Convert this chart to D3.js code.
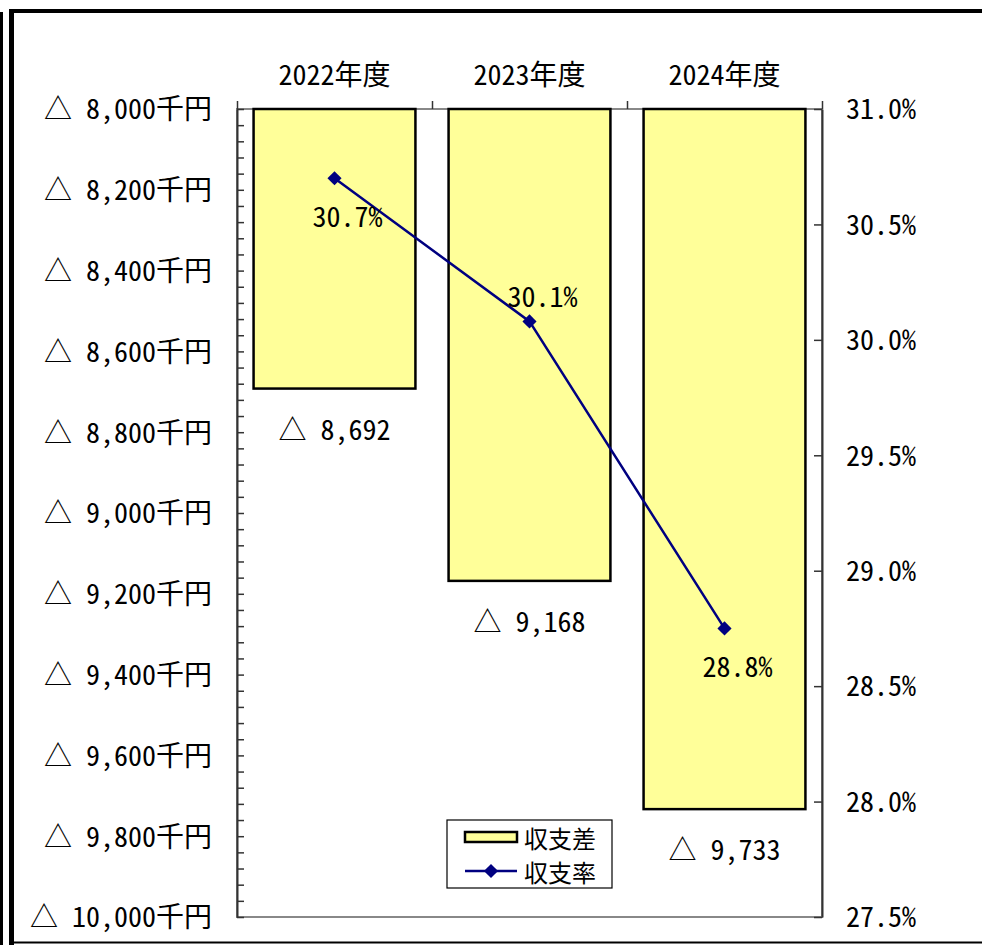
<!DOCTYPE html>
<html>
<head>
<meta charset="utf-8">
<script src="https://cdn.jsdelivr.net/npm/d3@7/dist/d3.min.js"></script>
<style>
  body { margin: 0; background: #fff; }
  svg text { font-family: "Noto Sans Mono CJK JP", "Noto Sans CJK JP", sans-serif; fill: #000; }
</style>
</head>
<body>
<div class="chart"></div>
<script>
// data
var years = ["2022年度", "2023年度", "2024年度"];
var balance = [-8692, -9168, -9733];      // 収支差 (千円)
var rate = [30.70, 30.08, 28.75];         // 収支率 (%)
var rateLabels = ["30.7%", "30.1%", "28.8%"];
var leftTicks = [8000, 8200, 8400, 8600, 8800, 9000, 9200, 9400, 9600, 9800, 10000];
var rightTicks = [31.0, 30.5, 30.0, 29.5, 29.0, 28.5, 28.0, 27.5];

var width = 982, height = 945;
var margin = {top: 109, right: 160, bottom: 28, left: 237};
var plotW = width - margin.left - margin.right;
var plotH = height - margin.top - margin.bottom;

var svg = d3.select(".chart")
  .append("svg")
  .attr("width", width)
  .attr("height", height);

// outer frame
svg.append("line").attr("x1", 10).attr("x2", width).attr("y1", 11).attr("y2", 11)
  .attr("stroke", "#000").attr("stroke-width", 4);
svg.append("line").attr("x1", 11.5).attr("x2", 11.5).attr("y1", 9).attr("y2", height)
  .attr("stroke", "#000").attr("stroke-width", 5);
svg.append("line").attr("x1", 1.5).attr("x2", 1.5).attr("y1", 12).attr("y2", height)
  .attr("stroke", "#000").attr("stroke-width", 3);
svg.append("line").attr("x1", 11).attr("x2", width).attr("y1", 942.5).attr("y2", 942.5)
  .attr("stroke", "#000").attr("stroke-width", 2);

var g = svg.append("g")
  .attr("transform", "translate(" + margin.left + "," + margin.top + ")");

// scales
var x = d3.scaleBand().domain(years).range([0, plotW]).paddingInner(0.17).paddingOuter(0.085);
var xEdge = d3.scaleLinear().domain([0, years.length]).range([0, plotW]);
var y = d3.scaleLinear().domain([8000, 10000]).range([0, plotH]);   // 8000 at top
var y2 = d3.scaleLinear().domain([31.0, 27.5]).range([0, plotH]);

// plot border
g.append("rect")
  .attr("x", 0).attr("y", 0).attr("width", plotW).attr("height", plotH)
  .attr("fill", "none").attr("stroke", "#888").attr("stroke-width", 2);

// bars
g.selectAll(".bar")
  .data(balance)
  .enter().append("rect")
  .attr("class", "bar")
  .attr("x", function (d, i) { return x(years[i]); })
  .attr("y", y(8000))
  .attr("width", x.bandwidth())
  .attr("height", function (d) { return y(-d) - y(8000); })
  .attr("fill", "#ffff99")
  .attr("stroke", "#000")
  .attr("stroke-width", 2.5);

// bar labels
g.selectAll(".barLabel")
  .data(balance)
  .enter().append("text")
  .attr("class", "barLabel")
  .attr("x", function (d, i) { return x(years[i]) + x.bandwidth() / 2; })
  .attr("y", function (d) { return y(-d) + 39; })
  .attr("text-anchor", "middle")
  .attr("dominant-baseline", "central")
  .style("font-size", "28px")
  .text(function (d) { return "△ " + d3.format(",")(-d); });

// left axis (ticks drawn inward)
var minorLeft = d3.range(8000, 10001, 40);
g.append("g")
  .attr("class", "y axis")
  .call(d3.axisLeft(y)
    .tickValues(minorLeft)
    .tickSize(-7)
    .tickSizeOuter(0)
    .tickPadding(25)
    .tickFormat(function (d) {
      return leftTicks.indexOf(d) >= 0 ? "△ " + d3.format(",")(d) + "千円" : "";
    }))
  .call(function (a) {
    a.select(".domain").attr("stroke", "#333").attr("stroke-width", 2);
    a.selectAll(".tick line").attr("stroke", "#333").attr("stroke-width", 1.5);
    a.selectAll("text").style("font-size", "28px").attr("dy", "0.35em");
  });

// right axis
g.append("g")
  .attr("class", "y2 axis")
  .attr("transform", "translate(" + plotW + ",0)")
  .call(d3.axisRight(y2)
    .tickValues(rightTicks)
    .tickSize(-8)
    .tickSizeOuter(0)
    .tickPadding(24)
    .tickFormat(function (d) { return d3.format(".1f")(d) + "%"; }))
  .call(function (a) {
    a.select(".domain").attr("stroke", "#333").attr("stroke-width", 2);
    a.selectAll(".tick line").attr("stroke", "#333").attr("stroke-width", 1.5);
    a.selectAll("text").style("font-size", "28px").attr("dy", "0.35em");
  });

// top category axis
g.append("g")
  .attr("class", "x axis")
  .call(d3.axisTop(xEdge).ticks(years.length).tickSize(8).tickSizeOuter(0).tickFormat(""))
  .call(function (a) {
    a.select(".domain").remove();
    a.selectAll(".tick line").attr("stroke", "#333").attr("stroke-width", 1.5);
  });
g.append("g")
  .call(d3.axisTop(x).tickSize(0).tickPadding(24))
  .call(function (a) {
    a.select(".domain").remove();
    a.selectAll("text").style("font-size", "28px");
  });

// rate line
var line = d3.line()
  .x(function (d, i) { return x(years[i]) + x.bandwidth() / 2; })
  .y(function (d) { return y2(d); });

g.append("path")
  .datum(rate)
  .attr("class", "line")
  .attr("fill", "none")
  .attr("stroke", "#000080")
  .attr("stroke-width", 2.5)
  .attr("d", line);

g.selectAll(".pt")
  .data(rate)
  .enter().append("path")
  .attr("class", "pt")
  .attr("d", d3.symbol().type(d3.symbolSquare).size(100))
  .attr("transform", function (d, i) {
    return "translate(" + (x(years[i]) + x.bandwidth() / 2) + "," + y2(d) + ") rotate(45)";
  })
  .attr("fill", "#000080");

// rate labels (below, above, below)
var rateLabelDy = [37, -26, 37];
g.selectAll(".rateLabel")
  .data(rate)
  .enter().append("text")
  .attr("class", "rateLabel")
  .attr("x", function (d, i) { return x(years[i]) + x.bandwidth() / 2 + 13; })
  .attr("y", function (d, i) { return y2(d) + rateLabelDy[i]; })
  .attr("text-anchor", "middle")
  .attr("dominant-baseline", "central")
  .style("font-size", "28px")
  .text(function (d, i) { return rateLabels[i]; });

// legend
var legend = svg.append("g").attr("transform", "translate(447,820)");
legend.append("rect")
  .attr("width", 165).attr("height", 68)
  .attr("fill", "#fff").attr("stroke", "#000").attr("stroke-width", 1.2);
legend.append("rect")
  .attr("x", 18).attr("y", 12).attr("width", 52).attr("height", 10)
  .attr("fill", "#ffff99").attr("stroke", "#000").attr("stroke-width", 2.5);
legend.append("text")
  .attr("x", 77).attr("y", 17).attr("dominant-baseline", "central")
  .style("font-size", "24px").text("収支差");
legend.append("line")
  .attr("x1", 18).attr("x2", 70).attr("y1", 51).attr("y2", 51)
  .attr("stroke", "#000080").attr("stroke-width", 2.5);
legend.append("path")
  .attr("d", d3.symbol().type(d3.symbolSquare).size(100))
  .attr("transform", "translate(44,51) rotate(45)")
  .attr("fill", "#000080");
legend.append("text")
  .attr("x", 77).attr("y", 51).attr("dominant-baseline", "central")
  .style("font-size", "24px").text("収支率");
</script>
</body>
</html>
